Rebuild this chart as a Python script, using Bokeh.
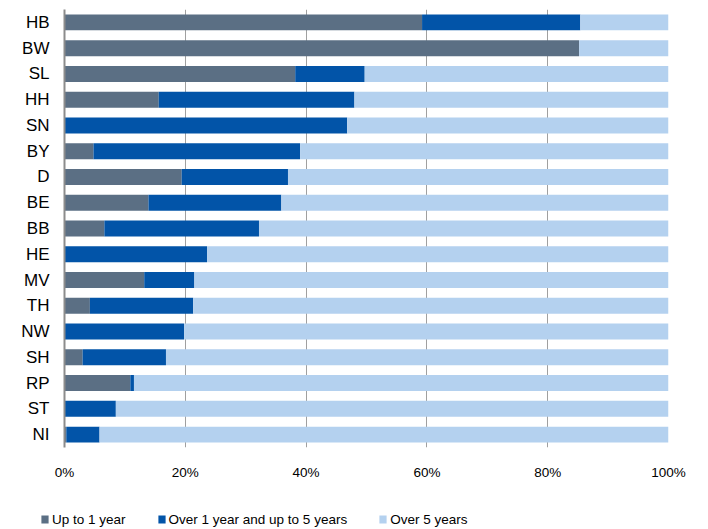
from bokeh.plotting import figure
from bokeh.layouts import column
from bokeh.models import FactorRange, Range1d, Legend, LegendItem, PrintfTickFormatter, FixedTicker
from bokeh.embed import file_html
from bokeh.resources import INLINE

regions = ["HB", "BW", "SL", "HH", "SN", "BY", "D", "BE", "BB", "HE",
           "MV", "TH", "NW", "SH", "RP", "ST", "NI"]
up_to_1_year = [59.2, 85.2, 38.2, 15.6, 0.0, 4.8, 19.4, 13.9, 6.6, 0.0,
                13.2, 4.2, 0.0, 3.0, 10.9, 0.0, 0.3]
over_1_to_5_years = [26.2, 0.0, 11.5, 32.4, 46.8, 34.2, 17.6, 22.0, 25.6, 23.6,
                     8.3, 17.1, 19.8, 13.8, 0.6, 8.5, 5.5]
over_5_years = [14.6, 14.8, 50.3, 52.0, 53.2, 61.0, 63.0, 64.1, 67.8, 76.4,
                78.5, 78.7, 80.2, 83.2, 88.5, 91.5, 94.2]
series_names = ["Up to 1 year", "Over 1 year and up to 5 years", "Over 5 years"]
x_ticks = [0, 20, 40, 60, 80, 100]

colors = ["#5b6f84", "#0254a8", "#b4d1ef"]
keys = ["a", "b", "c"]
data = dict(region=regions, a=up_to_1_year, b=over_1_to_5_years, c=over_5_years)

FONT = "Liberation Sans"

p = figure(y_range=FactorRange(*reversed(regions)), x_range=Range1d(0, 100),
           frame_width=604, frame_height=438,
           min_border_left=64, min_border_right=36, min_border_top=9,
           min_border_bottom=50, frame_align=False,
           output_backend="svg", toolbar_location=None)

renderers = p.hbar_stack(keys, y="region", height=0.62, fill_color=colors,
                         line_color=None, source=data)

p.xaxis.ticker = FixedTicker(ticks=x_ticks)
p.xaxis.formatter = PrintfTickFormatter(format="%d%%")
p.xaxis.axis_line_color = None
p.xaxis.major_tick_line_color = None
p.xaxis.minor_tick_line_color = None
p.xaxis.major_tick_out = 0
p.xaxis.major_label_standoff = 17
p.xaxis.major_label_text_font = FONT
p.xaxis.major_label_text_font_size = "13.5px"
p.xaxis.major_label_text_color = "#000000"

p.yaxis.axis_line_color = "#8c8c8c"
p.yaxis.axis_line_width = 2
p.yaxis.major_tick_line_color = None
p.yaxis.minor_tick_line_color = None
p.yaxis.major_tick_out = 0
p.yaxis.major_label_standoff = 15
p.yaxis.major_label_text_font = FONT
p.yaxis.major_label_text_font_size = "17px"
p.yaxis.major_label_text_color = "#000000"

p.xgrid.grid_line_color = "#a0a0a0"
p.xgrid.grid_line_width = 1
p.ygrid.grid_line_color = None
p.outline_line_color = None

# legend strip below the chart: same series, zero-height bars kept outside its x range
lg = figure(width=700, height=32, x_range=Range1d(101, 102),
            y_range=FactorRange(*reversed(regions)),
            x_axis_type=None, y_axis_type=None, frame_align=False,
            min_border=0, output_backend="svg", toolbar_location=None)
lg.grid.grid_line_color = None
lg.outline_line_color = None
lg_renderers = lg.hbar_stack(keys, y="region", height=0, fill_color=colors,
                             line_color=None, source=data)

items = [LegendItem(label=n, renderers=[r]) for n, r in zip(series_names, lg_renderers)]
legend = Legend(items=items, orientation="horizontal", location=(40, 2),
                padding=0, margin=0, spacing=31, label_standoff=3,
                glyph_width=9, glyph_height=10, border_line_color=None,
                background_fill_alpha=0, label_height=16,
                label_text_font=FONT, label_text_font_size="13.5px",
                label_text_color="#000000")
lg.add_layout(legend)

layout = column(p, lg, spacing=0)
open("out.html", "w").write(file_html(layout, INLINE))
